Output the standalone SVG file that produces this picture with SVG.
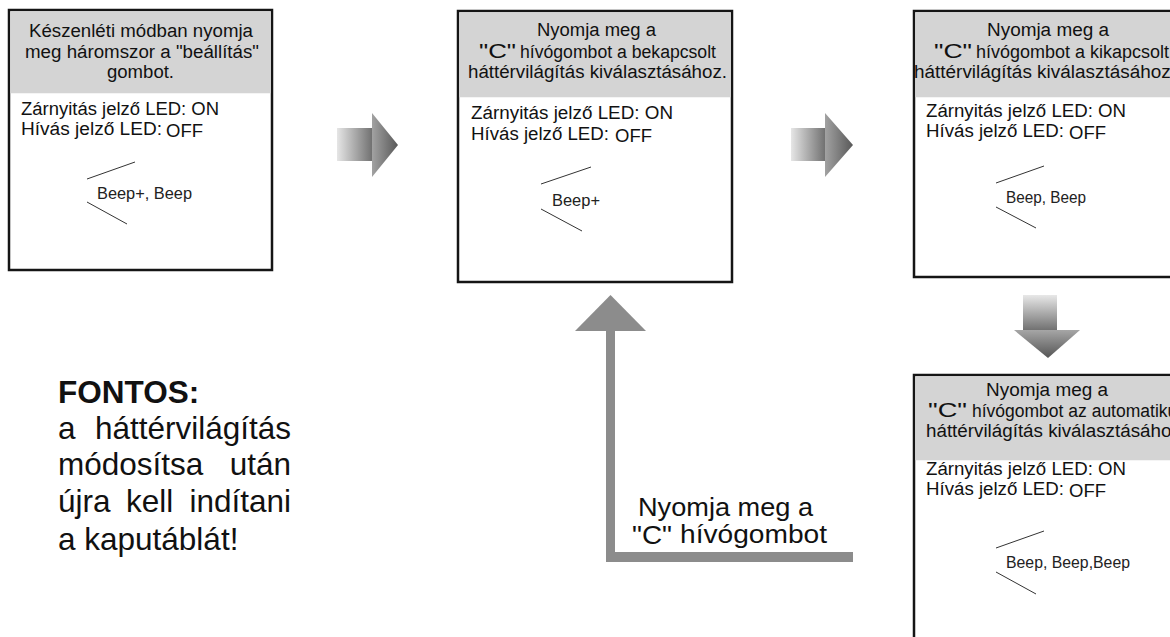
<svg xmlns="http://www.w3.org/2000/svg" width="1170" height="637" viewBox="0 0 1170 637">
<defs>
<style>
.box{fill:#ffffff;stroke:#151515;stroke-width:2.5}
.hdr{fill:#d4d4d4}
.t{font-family:"Liberation Sans",Arial,sans-serif;font-size:18px;fill:#111}
.o{font-family:"Liberation Sans",Arial,sans-serif;font-size:18.5px;fill:#111}
.c{font-family:"Liberation Sans",Arial,sans-serif;font-size:21px;fill:#111}
.bp{font-family:"Liberation Sans",Arial,sans-serif;font-size:16px;fill:#222}
.bl{stroke:#333;stroke-width:1;fill:none}
.big{font-family:"Liberation Sans",Arial,sans-serif;font-size:31.5px;fill:#111}
.lab{font-family:"Liberation Sans",Arial,sans-serif;font-size:26.5px;fill:#111}
.fb{fill:#8c8c8c}
</style>
<linearGradient id="gShaftH" x1="0" y1="0" x2="1" y2="0">
<stop offset="0" stop-color="#e6e6e6"/><stop offset="1" stop-color="#6e6e6e"/>
</linearGradient>
<linearGradient id="gHeadH" x1="0" y1="0" x2="1" y2="0">
<stop offset="0" stop-color="#a2a2a2"/><stop offset="1" stop-color="#585858"/>
</linearGradient>
<linearGradient id="gShaftV" x1="0" y1="0" x2="0" y2="1">
<stop offset="0" stop-color="#e8e8e8"/><stop offset="1" stop-color="#6e6e6e"/>
</linearGradient>
<linearGradient id="gHeadV" x1="0" y1="0" x2="0" y2="1">
<stop offset="0" stop-color="#a6a6a6"/><stop offset="1" stop-color="#555555"/>
</linearGradient>
</defs>
<rect width="1170" height="637" fill="#ffffff"/>

<g id="node1">
<rect class="box" x="9" y="10" width="263" height="260"/>
<rect class="hdr" x="10.25" y="11.25" width="260.5" height="82"/>
<text class="t" x="29" y="37" textLength="224" lengthAdjust="spacingAndGlyphs">Készenléti módban nyomja</text>
<text class="t" x="25" y="57.5" textLength="234" lengthAdjust="spacingAndGlyphs">meg háromszor a "beállítás"</text>
<text class="t" x="107" y="77.5" textLength="67" lengthAdjust="spacingAndGlyphs">gombot.</text>
<text class="t" x="21" y="115" textLength="198" lengthAdjust="spacingAndGlyphs">Zárnyitás jelző LED: ON</text>
<text class="t" x="21" y="135" textLength="141" lengthAdjust="spacingAndGlyphs">Hívás jelző LED:</text>
<text class="o" x="166" y="137">OFF</text>
<line class="bl" x1="87" y1="179" x2="135" y2="162"/>
<line class="bl" x1="87" y1="202" x2="127" y2="224"/>
<text class="bp" x="97" y="199" textLength="95" lengthAdjust="spacingAndGlyphs">Beep+, Beep</text>
</g>

<g id="node2">
<rect class="box" x="458" y="11" width="274" height="271"/>
<rect class="hdr" x="459.25" y="12.25" width="271.5" height="85"/>
<text class="t" x="537" y="36" textLength="119" lengthAdjust="spacingAndGlyphs">Nyomja meg a</text>
<text class="c" x="479" y="58" textLength="37" lengthAdjust="spacingAndGlyphs">"C"</text>
<text class="t" x="520" y="58" textLength="196" lengthAdjust="spacingAndGlyphs">hívógombot a bekapcsolt</text>
<text class="t" x="468" y="78" textLength="259" lengthAdjust="spacingAndGlyphs">háttérvilágítás kiválasztásához.</text>
<text class="t" x="471" y="119" textLength="202" lengthAdjust="spacingAndGlyphs">Zárnyitás jelző LED: ON</text>
<text class="t" x="471" y="140" textLength="138" lengthAdjust="spacingAndGlyphs">Hívás jelző LED:</text>
<text class="o" x="615" y="142">OFF</text>
<line class="bl" x1="541" y1="184" x2="591" y2="167"/>
<line class="bl" x1="541" y1="209" x2="582" y2="231"/>
<text class="bp" x="552" y="206" textLength="48" lengthAdjust="spacingAndGlyphs">Beep+</text>
</g>

<g id="node3">
<rect class="box" x="914" y="11" width="272" height="266"/>
<rect class="hdr" x="915.25" y="12.25" width="269.5" height="85"/>
<text class="t" x="987" y="36" textLength="122" lengthAdjust="spacingAndGlyphs">Nyomja meg a</text>
<text class="c" x="934" y="58" textLength="38" lengthAdjust="spacingAndGlyphs">"C"</text>
<text class="t" x="976" y="58" textLength="193" lengthAdjust="spacingAndGlyphs">hívógombot a kikapcsolt</text>
<text class="t" x="914" y="78" textLength="262" lengthAdjust="spacingAndGlyphs">háttérvilágítás kiválasztásához.</text>
<text class="t" x="926" y="117" textLength="200" lengthAdjust="spacingAndGlyphs">Zárnyitás jelző LED: ON</text>
<text class="t" x="926" y="137" textLength="138" lengthAdjust="spacingAndGlyphs">Hívás jelző LED:</text>
<text class="o" x="1069" y="139">OFF</text>
<line class="bl" x1="996" y1="183" x2="1044" y2="166"/>
<line class="bl" x1="996" y1="207" x2="1036" y2="228"/>
<text class="bp" x="1006" y="203" textLength="80" lengthAdjust="spacingAndGlyphs">Beep, Beep</text>
</g>

<g id="node4">
<rect class="box" x="914" y="375" width="272" height="280"/>
<rect class="hdr" x="915.25" y="376.25" width="269.5" height="84"/>
<text class="t" x="986" y="396" textLength="122" lengthAdjust="spacingAndGlyphs">Nyomja meg a</text>
<text class="c" x="928" y="417" textLength="39" lengthAdjust="spacingAndGlyphs">"C"</text>
<text class="t" x="972" y="417" textLength="214" lengthAdjust="spacingAndGlyphs">hívógombot az automatikus</text>
<text class="t" x="926" y="437" textLength="260" lengthAdjust="spacingAndGlyphs">háttérvilágítás kiválasztásához.</text>
<text class="t" x="926" y="475" textLength="200" lengthAdjust="spacingAndGlyphs">Zárnyitás jelző LED: ON</text>
<text class="t" x="926" y="495" textLength="138" lengthAdjust="spacingAndGlyphs">Hívás jelző LED:</text>
<text class="o" x="1069" y="497">OFF</text>
<line class="bl" x1="996" y1="548" x2="1044" y2="531"/>
<line class="bl" x1="996" y1="572" x2="1036" y2="594"/>
<text class="bp" x="1006" y="568" textLength="124" lengthAdjust="spacingAndGlyphs">Beep, Beep,Beep</text>
</g>

<g id="note">
<text class="big" x="58" y="403" font-weight="bold">FONTOS:</text>
<text class="big" x="58" y="439">a</text>
<text class="big" x="291" y="439" text-anchor="end">háttérvilágítás</text>
<text class="big" x="58" y="475">módosítsa</text>
<text class="big" x="291" y="475" text-anchor="end">után</text>
<text class="big" x="58" y="512">újra</text>
<text class="big" x="126" y="512">kell</text>
<text class="big" x="291" y="512" text-anchor="end">indítani</text>
<text class="big" x="58" y="550">a kaputáblát!</text>
</g>

<g id="connectors">
<polygon fill="url(#gShaftH)" points="337,128 373,128 373,161 337,161"/>
<polygon fill="url(#gHeadH)" points="372,113 398,145 372,177"/>
<polygon fill="url(#gShaftH)" points="791,128 826,128 826,161 791,161"/>
<polygon fill="url(#gHeadH)" points="825,113 853,145 825,177"/>
<polygon fill="url(#gShaftV)" points="1023,295 1057,295 1057,331 1023,331"/>
<polygon fill="url(#gHeadV)" points="1014,330 1080,330 1048,358"/>
<g id="feedback">
<rect class="fb" x="606" y="330" width="9" height="232"/>
<rect class="fb" x="606" y="552" width="247" height="10"/>
<polygon class="fb" points="575,331 610.5,295 646,331"/>
<text class="lab" x="638" y="516" textLength="175" lengthAdjust="spacingAndGlyphs">Nyomja meg a</text>
<text class="lab" x="632" y="544" font-size="27.5" textLength="40" lengthAdjust="spacingAndGlyphs">"C"</text>
<text class="lab" x="680" y="543" textLength="147" lengthAdjust="spacingAndGlyphs">hívógombot</text>
</g>
</g>
</svg>
